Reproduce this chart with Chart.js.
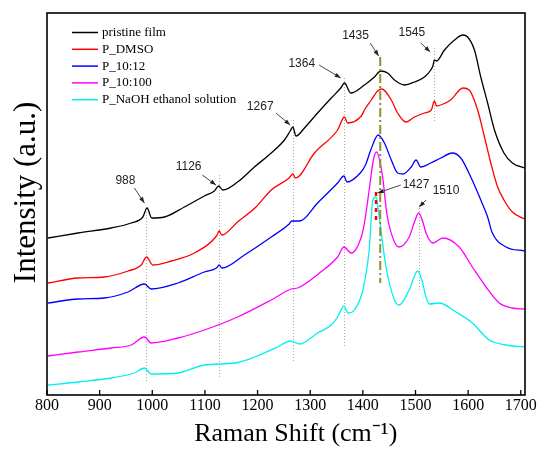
<!DOCTYPE html>
<html>
<head>
<meta charset="utf-8">
<script src="https://cdn.jsdelivr.net/npm/chart.js@4.4.0/dist/chart.umd.min.js"></script>
<style>
  html, body { margin: 0; padding: 0; background: #fff; }
</style>
</head>
<body>
<canvas id="raman" width="541" height="453"></canvas>
<script>
// Raman spectra, offset curves (x = Raman shift cm-1, y = intensity a.u.)
const seriesNames = ['pristine film', 'P_DMSO', 'P_10:12', 'P_10:100', 'P_NaOH ethanol solution'];
const seriesColors = ['#000000', '#ff0000', '#0000ff', '#ff00ff', '#00f0f0'];

const pristine = [[802,157],[859,162],[922,167],[960,172],[982,178],[990,187],[999,177],[1023,178],[1061,188],[1099,199],[1118,204],[1126,209],[1134,205],[1162,213],[1194,228],[1226,242],[1251,255],[1262,264],[1267,268],[1273,259],[1289,267],[1314,282],[1340,297],[1358,307],[1365,312],[1377,302],[1403,310],[1422,318],[1434,324],[1447,322],[1460,315],[1479,310],[1498,313],[1517,318],[1529,325],[1533,329],[1536,335],[1540,334],[1555,345],[1574,355],[1590,360],[1599,358],[1612,345],[1624,318],[1637,292],[1650,265],[1668,242],[1684,232],[1707,227]];
const pDMSO = [[802,112],[859,117],[909,118],[954,124],[979,130],[989,138],[1001,130],[1036,134],[1080,142],[1122,159],[1127,164],[1132,160],[1162,173],[1197,188],[1226,205],[1260,217],[1267,221],[1272,217],[1308,242],[1352,265],[1365,278],[1371,272],[1397,279],[1403,285],[1416,295],[1428,304],[1436,306],[1454,295],[1466,282],[1482,273],[1498,278],[1517,282],[1530,285],[1536,294],[1540,289],[1548,290],[1567,295],[1590,307],[1602,305],[1618,285],[1631,258],[1643,232],[1656,208],[1668,195],[1684,183],[1707,176]];
const p10_12 = [[802,92],[859,96],[909,97],[954,103],[985,111],[998,106],[1049,112],[1099,123],[1122,127],[1127,130],[1132,127],[1175,140],[1226,158],[1260,171],[1265,174],[1280,174],[1314,192],[1352,212],[1364,219],[1370,213],[1395,222],[1405,230],[1415,245],[1429,260],[1441,252],[1454,235],[1466,222],[1476,221],[1492,228],[1501,235],[1510,228],[1529,232],[1548,237],[1570,242],[1586,237],[1605,218],[1624,195],[1637,178],[1646,162],[1672,148],[1707,144]];
const p10_100 = [[802,39],[859,43],[922,47],[960,50],[985,58],[998,52],[1049,57],[1099,65],[1162,78],[1226,95],[1264,106],[1276,107],[1320,123],[1352,138],[1364,148],[1378,142],[1397,158],[1403,172],[1412,205],[1420,235],[1426,243],[1437,220],[1446,180],[1460,153],[1469,148],[1488,158],[1498,173],[1506,182],[1514,173],[1520,162],[1533,152],[1552,157],[1583,148],[1608,128],[1634,108],[1659,92],[1684,87],[1707,86]];
const pNaOH = [[802,10],[859,13],[922,17],[966,22],[985,27],[998,21],[1049,22],[1099,30],[1157,32],[1194,38],[1238,48],[1262,54],[1280,51],[1314,62],[1340,70],[1352,78],[1364,89],[1372,82],[1384,85],[1400,105],[1412,145],[1419,195],[1425,198],[1431,178],[1444,128],[1460,95],[1469,90],[1488,105],[1504,124],[1512,115],[1520,98],[1526,91],[1545,92],[1577,83],[1608,72],[1640,55],[1672,50],[1707,48]];

const xTicks = [800, 900, 1000, 1100, 1200, 1300, 1400, 1500, 1600, 1700];

// dotted guide lines: [x, yFrom, yTo]
const guideLines = [[988,183,12],[1127,220,17],[1267,275,33],[1364,317,48],[1536,347,272],[1506,190,103]];
// peak labels: [text, labelX, labelY, arrowFromX, arrowFromY, arrowToX, arrowToY]
const peakLabels = [
  ['988', 949, 214, 966, 207, 985, 192],
  ['1126', 1069, 228, 1095, 220, 1121, 210],
  ['1267', 1205, 288, 1235, 282, 1262, 270],
  ['1364', 1284, 331, 1317, 330, 1358, 317],
  ['1435', 1386, 359, 1414, 352, 1430, 339],
  ['1545', 1493, 362, 1510, 352, 1528, 343],
  ['1427', 1501, 210, 1472, 210, 1428, 202],
  ['1510', 1558, 204, 1520, 195, 1507, 188]
];
const line1435 = [1433, 338, 112];
const line1427 = [1425, 203, 173];

function toXY(arr) { return arr.map(p => ({ x: p[0], y: p[1] })); }

const allSeries = [pristine, pDMSO, p10_12, p10_100, pNaOH];
const datasets = allSeries.map((s, i) => ({
  label: seriesNames[i],
  data: toXY(s),
  borderColor: seriesColors[i],
  backgroundColor: seriesColors[i],
  borderWidth: 1.3,
  pointRadius: 0,
  cubicInterpolationMode: 'monotone'
}));

function arrow(ctx, x0, y0, x1, y1) {
  ctx.beginPath();
  ctx.moveTo(x0, y0);
  ctx.lineTo(x1, y1);
  ctx.stroke();
  const a = Math.atan2(y1 - y0, x1 - x0);
  ctx.beginPath();
  ctx.moveTo(x1, y1);
  ctx.lineTo(x1 - 6 * Math.cos(a) + 2.2 * Math.sin(a), y1 - 6 * Math.sin(a) - 2.2 * Math.cos(a));
  ctx.lineTo(x1 - 6 * Math.cos(a) - 2.2 * Math.sin(a), y1 - 6 * Math.sin(a) + 2.2 * Math.cos(a));
  ctx.closePath();
  ctx.fill();
}

const decor = {
  id: 'decor',
  beforeDatasetsDraw(chart) {
    const { ctx, scales: { x, y } } = chart;
    ctx.save();
    ctx.strokeStyle = '#aaaaaa';
    ctx.lineWidth = 1;
    ctx.setLineDash([1, 2]);
    guideLines.forEach(g => {
      const px = Math.round(x.getPixelForValue(g[0])) + 0.5;
      ctx.beginPath();
      ctx.moveTo(px, y.getPixelForValue(g[1]));
      ctx.lineTo(px, y.getPixelForValue(g[2]));
      ctx.stroke();
    });
    ctx.restore();
  },
  afterDatasetsDraw(chart) {
    const { ctx, chartArea: a, scales: { x, y } } = chart;
    ctx.save();
    // 1435 dash-dot
    ctx.strokeStyle = '#8f8f2c';
    ctx.lineWidth = 2;
    ctx.setLineDash([9, 3, 2, 3]);
    ctx.beginPath();
    ctx.moveTo(x.getPixelForValue(line1435[0]), y.getPixelForValue(line1435[1]));
    ctx.lineTo(x.getPixelForValue(line1435[0]), y.getPixelForValue(line1435[2]));
    ctx.stroke();
    // 1427 red dots
    ctx.strokeStyle = '#ff0000';
    ctx.lineWidth = 2.5;
    ctx.setLineDash([4, 4]);
    ctx.beginPath();
    ctx.moveTo(x.getPixelForValue(line1427[0]), y.getPixelForValue(line1427[1]));
    ctx.lineTo(x.getPixelForValue(line1427[0]), y.getPixelForValue(line1427[2]));
    ctx.stroke();
    ctx.setLineDash([]);

    // labels + arrows
    ctx.fillStyle = '#222';
    ctx.strokeStyle = '#333';
    ctx.lineWidth = 0.9;
    ctx.font = '12px "Liberation Sans", Arial, sans-serif';
    ctx.textAlign = 'center';
    ctx.textBaseline = 'middle';
    peakLabels.forEach(p => {
      ctx.fillText(p[0], x.getPixelForValue(p[1]), y.getPixelForValue(p[2]));
      arrow(ctx, x.getPixelForValue(p[3]), y.getPixelForValue(p[4]),
                 x.getPixelForValue(p[5]), y.getPixelForValue(p[6]));
    });

    // frame
    ctx.strokeStyle = '#000';
    ctx.lineWidth = 1.6;
    ctx.strokeRect(a.left, a.top, a.right - a.left, a.bottom - a.top);
    // inward ticks on the x axis
    ctx.lineWidth = 1.3;
    xTicks.forEach(v => {
      const px = x.getPixelForValue(v);
      ctx.beginPath();
      ctx.moveTo(px, a.bottom);
      ctx.lineTo(px, a.bottom - 5);
      ctx.stroke();
    });

    // legend, top-left inside the frame
    ctx.font = '13px "Liberation Serif", "Times New Roman", serif';
    ctx.textAlign = 'left';
    chart.data.datasets.forEach((ds, i) => {
      const ly = a.top + 19.5 + i * 16.8;
      ctx.strokeStyle = ds.borderColor;
      ctx.lineWidth = 1.5;
      ctx.beginPath();
      ctx.moveTo(a.left + 25, ly);
      ctx.lineTo(a.left + 51, ly);
      ctx.stroke();
      ctx.fillStyle = '#000';
      ctx.fillText(ds.label, a.left + 55, ly);
    });
    ctx.restore();
  }
};

new Chart(document.getElementById('raman'), {
  type: 'line',
  data: { datasets },
  options: {
    responsive: false,
    animation: false,
    devicePixelRatio: 1,
    layout: { padding: { top: 13, right: 16, left: 0, bottom: 0 } },
    plugins: { legend: { display: false }, tooltip: { enabled: false } },
    scales: {
      x: {
        type: 'linear',
        min: 800,
        max: 1708,
        afterFit: s => { s.height = 58; },
        afterBuildTicks: s => { s.ticks = xTicks.map(v => ({ value: v })); },
        ticks: {
          autoSkip: false,
          maxRotation: 0,
          minRotation: 0,
          padding: 1,
          color: '#000',
          callback: v => String(v),
          font: { family: '"Liberation Serif", "Times New Roman", serif', size: 16 }
        },
        grid: { drawOnChartArea: false, drawTicks: false },
        border: { display: false },
        title: {
          display: true,
          // leading spaces nudge the centred title a little to the right, as in the original
          text: '\u00A0\u00A0\u00A0Raman Shift (cm\u207B\u00B9)',
          color: '#000',
          font: { family: '"Liberation Serif", "Times New Roman", serif', size: 26 },
          padding: { top: 0, bottom: 3 }
        }
      },
      y: {
        min: 0,
        max: 382,
        afterFit: s => { s.width = 47; },
        ticks: { display: false },
        grid: { display: false },
        border: { display: false },
        title: {
          display: true,
          text: '\u00A0\u00A0\u00A0Intensity (a.u.)',
          color: '#000',
          font: { family: '"Liberation Serif", "Times New Roman", serif', size: 31 },
          padding: { top: 8, bottom: 0 }
        }
      }
    }
  },
  plugins: [decor]
});
</script>
</body>
</html>
